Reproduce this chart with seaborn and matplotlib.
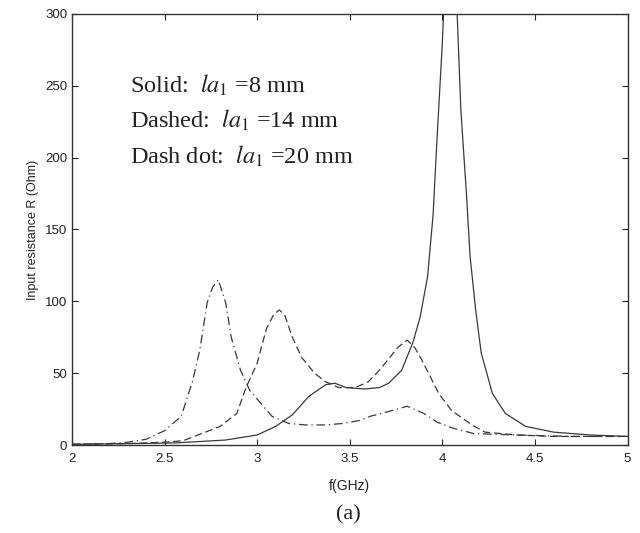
import matplotlib
matplotlib.use("Agg")
import matplotlib.pyplot as plt
import seaborn as sns
import pandas as pd

# Solid: la1 = 8 mm
f_8 = [2.0, 2.3, 2.56, 2.83, 3.0, 3.1, 3.19, 3.28, 3.37, 3.42, 3.48, 3.58, 3.66, 3.71,
       3.78, 3.84, 3.88, 3.92, 3.95, 3.97, 4.0, 4.02, 4.045, 4.07, 4.08, 4.10, 4.13, 4.15,
       4.18, 4.21, 4.27, 4.34, 4.45, 4.6, 4.8, 5.0]
r_8 = [0.5, 1, 1.5, 3.5, 7, 13, 21, 34, 42, 43, 40, 39, 40, 43,
       52, 71, 89, 117, 160, 210, 280, 340, 400, 330, 300, 233, 175, 131,
       94, 64, 36, 22, 13, 9, 7, 6]

# Dashed: la1 = 14 mm
f_14 = [2.0, 2.3, 2.5, 2.6, 2.7, 2.8, 2.89, 2.94, 3.0, 3.05, 3.09, 3.12, 3.15, 3.19,
        3.24, 3.31, 3.37, 3.44, 3.53, 3.6, 3.66, 3.71, 3.76, 3.81, 3.85, 3.89, 3.98,
        4.05, 4.16, 4.23, 4.4, 4.6, 5.0]
r_14 = [0.5, 1, 2, 3, 8, 13, 22, 40, 57, 81, 91, 94, 90, 75,
        61, 50, 44, 40, 40, 44, 52, 60, 68, 73, 68, 59, 36,
        24, 14, 9, 7, 6, 6]

# Dash dot: la1 = 20 mm
f_20 = [2.0, 2.2, 2.3, 2.4, 2.5, 2.59, 2.65, 2.69, 2.73, 2.76, 2.79, 2.83, 2.86, 2.91,
        2.96, 3.02, 3.08, 3.17, 3.26, 3.37, 3.46, 3.55, 3.61, 3.70, 3.81, 3.90, 3.97,
        4.05, 4.17, 4.4, 4.7, 5.0]
r_20 = [0.5, 1, 2, 4, 10, 20, 44, 66, 99, 110, 115, 99, 75, 52,
        38, 29, 20, 15, 14, 14, 15, 17, 20, 23, 27, 22, 16,
        12, 8, 7, 6, 6]

sns.set_style("ticks")
plt.rcParams['font.family'] = ['Liberation Sans', 'DejaVu Sans']
plt.rcParams['mathtext.fontset'] = 'stix'

fig = plt.figure(figsize=(6.4, 5.33), dpi=100)
ax = fig.add_axes([0.1125, 0.165, 0.868, 0.809])

line_col = "#3a3a3a"
sns.lineplot(data=pd.DataFrame({"f": f_8, "R": r_8}), x="f", y="R", ax=ax,
             color=line_col, linewidth=0.9)
sns.lineplot(data=pd.DataFrame({"f": f_14, "R": r_14}), x="f", y="R", ax=ax,
             color=line_col, linewidth=0.9)
ax.lines[-1].set_dashes((6, 3))
sns.lineplot(data=pd.DataFrame({"f": f_20, "R": r_20}), x="f", y="R", ax=ax,
             color=line_col, linewidth=0.9)
ax.lines[-1].set_dashes((7, 3, 1, 3))

ax.set_xlim(2, 5)
ax.set_ylim(0, 300)
ax.set_xticks([2, 2.5, 3, 3.5, 4, 4.5, 5])
ax.set_xticklabels(["2", "2.5", "3", "3.5", "4", "4.5", "5"])
ax.set_yticks([0, 50, 100, 150, 200, 250, 300])
ax.tick_params(direction="in", top=True, right=True, length=4, width=0.8,
               labelsize=9.5, colors="#222222")
ax.tick_params(axis="x", pad=6)
for s in ax.spines.values():
    s.set_color("#333333")
    s.set_linewidth(1.0)

ax.set_xlabel("f(GHz)", fontsize=10, color="#222222", labelpad=10)
ax.set_ylabel("Input resistance R (Ohm)", fontsize=9, color="#222222", labelpad=4)

serif = ['Liberation Serif', 'DejaVu Serif']
ax.text(0.105, 0.818, r"Solid:  $la_1$ =8 mm", transform=ax.transAxes,
        fontsize=17.5, family=serif, color="#222222")
ax.text(0.105, 0.736, r"Dashed:  $la_1$ =14 mm", transform=ax.transAxes,
        fontsize=17.5, family=serif, color="#222222")
ax.text(0.105, 0.652, r"Dash dot:  $la_1$ =20 mm", transform=ax.transAxes,
        fontsize=17.5, family=serif, color="#222222")

fig.text(0.545, 0.025, "(a)", fontsize=16, family=serif, color="#222222", ha="center")

fig.savefig("out.png", dpi=100)
